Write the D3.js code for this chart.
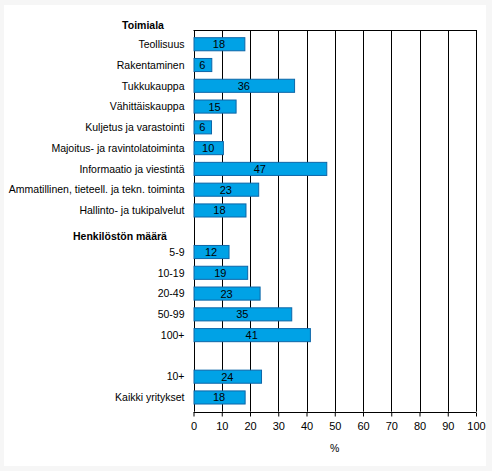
<!DOCTYPE html>
<html>
<head>
	<meta charset="utf-8">
	<title>Toimiala ja henkilöstön määrä</title>
	<style type="text/css">
		html, body {
			margin: 0;
			padding: 0;
			background-color: #f6f6f6;
		}
		svg text {
			font-family: "Liberation Sans", Arial, sans-serif;
			font-size: 10.5px;
			fill: #000;
		}
	</style>
</head>
<body>
	<div id="chart"></div>
	<script src="https://unpkg.com/d3@7.0.1/dist/d3.min.js"></script>
	<script type="text/javascript">
		// rivit ylhäältä alas, tyhjä merkkijono = väli
		const categories = [
			'Teollisuus', 'Rakentaminen', 'Tukkukauppa', 'Vähittäiskauppa',
			'Kuljetus ja varastointi', 'Majoitus- ja ravintolatoiminta',
			'Informaatio ja viestintä', 'Ammatillinen, tieteell. ja tekn. toiminta',
			'Hallinto- ja tukipalvelut', '',
			'5-9', '10-19', '20-49', '50-99', '100+', ' ',
			'10+', 'Kaikki yritykset'
		];
		const values = [
			18.0, 6.3, 35.6, 14.9,
			6.2, 10.4,
			47.0, 22.9,
			18.4, null,
			12.4, 19.0, 23.4, 34.6, 41.2, null,
			23.9, 18.1
		];
		const groupHeaders = [
			{ text: 'Toimiala', x: 143, y: 25 },
			{ text: 'Henkilöstön määrä', x: 120, y: 236 }
		];
		const xTicks = [0, 10, 20, 30, 40, 50, 60, 70, 80, 90, 100];
		const xTitle = '%';

		const width = 492, height = 471;
		const margin = { top: 30, right: 16, bottom: 59.3, left: 193.5 };

		const svg = d3.select('#chart')
			.append('svg')
			.attr('width', width)
			.attr('height', height);

		svg.append('rect')
			.attr('x', 4).attr('y', 5)
			.attr('width', 482).attr('height', 461)
			.attr('fill', '#fff');

		const xScale = d3.scaleLinear()
			.domain([0, 100])
			.range([margin.left, width - margin.right]);

		const yScale = d3.scaleBand()
			.domain(d3.range(categories.length))
			.range([margin.top, height - margin.bottom])
			.padding(0.37);

		// pystysuorat apuviivat
		svg.append('g')
			.selectAll('line')
			.data(xTicks)
			.join('line')
			.attr('x1', d => Math.round(xScale(d)) + 0.5)
			.attr('x2', d => Math.round(xScale(d)) + 0.5)
			.attr('y1', margin.top)
			.attr('y2', height - margin.bottom)
			.attr('stroke', '#000')
			.attr('stroke-width', 1);

		// yläreuna
		svg.append('line')
			.attr('x1', xScale(0)).attr('x2', xScale(100))
			.attr('y1', margin.top + 0.5).attr('y2', margin.top + 0.5)
			.attr('stroke', '#000');

		const rows = categories.map((c, i) => ({ label: c, value: values[i], i }));

		svg.append('g')
			.selectAll('rect')
			.data(rows.filter(d => d.value !== null))
			.join('rect')
			.attr('x', xScale(0) + 0.5)
			.attr('y', d => yScale(d.i))
			.attr('width', d => xScale(d.value) - xScale(0))
			.attr('height', yScale.bandwidth())
			.attr('fill', '#00a2e6')
			.attr('stroke', '#0d66a8')
			.attr('stroke-width', 1);

		svg.append('g')
			.selectAll('text')
			.data(rows.filter(d => d.value !== null))
			.join('text')
			.attr('x', d => (xScale(0) + xScale(d.value)) / 2)
			.attr('y', d => yScale(d.i) + yScale.bandwidth() / 2)
			.attr('dy', '0.36em')
			.attr('text-anchor', 'middle')
			.style('font-size', '11px')
			.text(d => Math.round(d.value));

		// luokkien nimet
		svg.append('g')
			.selectAll('text')
			.data(rows.filter(d => d.label.trim() !== ''))
			.join('text')
			.attr('x', margin.left - 9)
			.attr('y', d => yScale(d.i) + yScale.bandwidth() / 2)
			.attr('dy', '0.36em')
			.attr('text-anchor', 'end')
			.text(d => d.label);

		svg.append('g')
			.selectAll('text')
			.data(groupHeaders)
			.join('text')
			.attr('x', d => d.x)
			.attr('y', d => d.y)
			.attr('dy', '0.36em')
			.attr('text-anchor', 'middle')
			.style('font-weight', 'bold')
			.text(d => d.text);

		// x-akseli
		const xAxis = d3.axisBottom(xScale)
			.tickValues(xTicks)
			.tickSize(4)
			.tickPadding(6)
			.tickFormat(d3.format('d'));

		const gx = svg.append('g')
			.attr('transform', `translate(0,${Math.round(height - margin.bottom) + 0.5})`)
			.call(xAxis);
		gx.select('.domain').attr('stroke', '#000').attr('d', `M${xScale(0)},0H${xScale(100)}`);
		gx.selectAll('.tick line').attr('stroke', '#000');
		gx.selectAll('.tick text')
			.style('font-family', '"Liberation Sans", Arial, sans-serif')
			.style('font-size', '11px');

		svg.append('text')
			.attr('x', (xScale(0) + xScale(100)) / 2)
			.attr('y', 448)
			.attr('dy', '0.36em')
			.attr('text-anchor', 'middle')
			.text(xTitle);
	</script>
</body>
</html>
